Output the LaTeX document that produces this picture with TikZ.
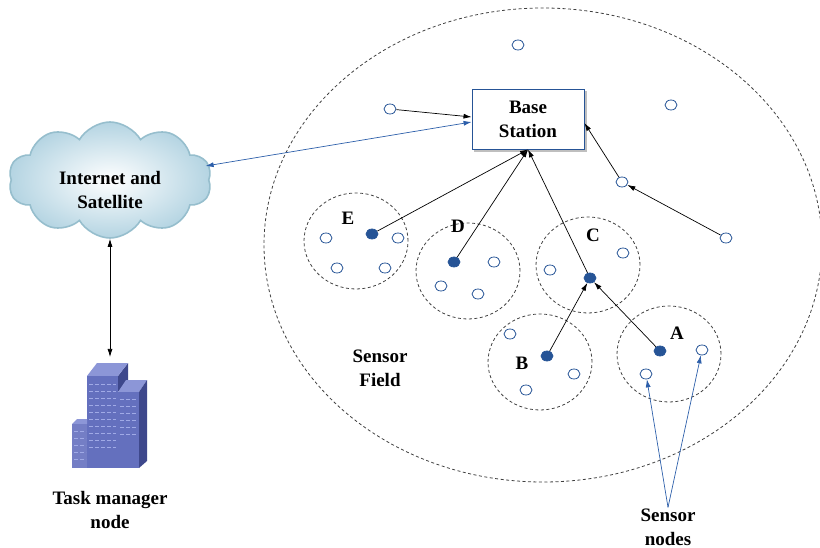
\documentclass[tikz,border=0pt]{standalone}
\usepackage{fontspec}
\setmainfont{Liberation Serif}
\usepackage{tikz}
\usetikzlibrary{arrows,arrows.meta,shapes,positioning,shadows}
\definecolor{wsnblue}{RGB}{38,84,150}
\definecolor{linkblue}{RGB}{45,95,170}
\definecolor{cloudedge}{RGB}{150,190,205}
\definecolor{cloudfill}{RGB}{180,212,226}
\definecolor{bfront}{RGB}{100,112,190}
\definecolor{bside}{RGB}{62,72,140}
\definecolor{btop}{RGB}{140,150,215}
\definecolor{bwin}{RGB}{160,170,230}
\tikzstyle{txt} = [font=\bfseries\fontsize{19}{24}\selectfont, align=center, inner sep=1pt]
\tikzstyle{sensor} = [ellipse, draw=wsnblue, fill=white, line width=0.8pt, minimum width=12pt, minimum height=10pt, inner sep=0pt]
\tikzstyle{head} = [sensor, fill=wsnblue]
\tikzstyle{cluster} = [ellipse, draw=black!75, dash pattern=on 3pt off 2.5pt, line width=0.8pt, minimum width=104pt, minimum height=96pt]
\tikzstyle{link} = [->,>={Latex[length=8pt,width=5pt]},line width=0.7pt]
\tikzstyle{bluelink} = [link, color=linkblue]

\begin{document}
\begin{tikzpicture}[x=1pt,y=-1pt]
\useasboundingbox (0,0) rectangle (820,548);

% Sensor field
\draw[black!75, dash pattern=on 3pt off 2.5pt, line width=0.8pt] (543,245) ellipse [x radius=279, y radius=237];
\node[txt] (field) at (380,368) {Sensor\\Field};

% Clusters
\node[cluster] (cE) at (356,241) {};
\node[cluster] (cD) at (468,271) {};
\node[cluster] (cC) at (588,265) {};
\node[cluster] (cB) at (540,362) {};
\node[cluster] (cA) at (669,354) {};
\node[txt] (lE) at (348,218) {E};
\node[txt] (lD) at (458,226) {D};
\node[txt] (lC) at (593,235) {C};
\node[txt] (lB) at (522,363) {B};
\node[txt] (lA) at (677,333) {A};

% Base station
\node[txt, draw=wsnblue, fill=white, line width=0.9pt, minimum width=112pt, minimum height=60pt,
  copy shadow={shadow xshift=2.5pt, shadow yshift=-2.5pt, fill=black!25, draw=black!25}] (bs) at (528,119) {Base\\Station};

% Cluster heads
\node[head] (hE) at (372,234) {};
\node[head] (hD) at (454,262) {};
\node[head] (hC) at (590,278) {};
\node[head] (hB) at (547,356) {};
\node[head] (hA) at (660,351) {};

% Sensors
\node[sensor] (s1) at (518,45) {};
\node[sensor] (s2) at (390,109) {};
\node[sensor] (s3) at (671,105) {};
\node[sensor] (s4) at (622,182) {};
\node[sensor] (s5) at (726,238) {};
\foreach \n/\x/\y in {e1/326/238, e2/398/238, e3/337/268, e4/385/268,
                      d1/494/262, d2/441/286, d3/478/294,
                      c1/623/253, c2/550/270,
                      b1/510/334, b2/574/374, b3/526/390,
                      a1/646/374, a2/702/350}
  \node[sensor] (\n) at (\x,\y) {};

% Links to the base station
\draw[link] (s2) -- ([yshift=2pt]bs.west);
\draw[link] (hE) -- (bs.south);
\draw[link] (hD) -- (bs.south);
\draw[link] (hC) -- (bs.south);
\draw[link] (hB) -- (hC);
\draw[link] (hA) -- (hC);
\draw[link] (s5) -- (s4);
\draw[link] (s4) -- ([yshift=-4pt]bs.east);

% Internet and satellite
\node[cloud, cloud puffs=10, cloud puff arc=120, aspect=1.75, minimum width=203pt, minimum height=116pt,
  draw=cloudedge, line width=1.6pt, inner color=white, outer color=cloudfill] (net) at (110,180) {};
\node[txt] (nettxt) at (110,190) {Internet and\\Satellite};
\draw[bluelink, <->] ([yshift=14pt,xshift=-4pt]net.east) -- ([yshift=-3pt]bs.west);

% Task manager building
\fill[bside] (118,376) -- (128,363) -- (128,380) -- (118,392) -- cycle;
\fill[btop] (87,376) -- (97,363) -- (128,363) -- (118,376) -- cycle;
\fill[bfront] (87,376) rectangle (118,468);
\fill[btop] (118,392) -- (126,380) -- (147,380) -- (139,392) -- cycle;
\fill[bfront] (118,392) rectangle (139,468);
\fill[bside] (139,392) -- (147,380) -- (147,461) -- (139,468) -- cycle;
\fill[btop] (72,424) -- (77,419) -- (87,419) -- (87,424) -- cycle;
\fill[bfront!90] (72,424) rectangle (87,468);
\foreach \y in {384,391,...,447}
  \draw[bwin, line width=1pt, dash pattern=on 4pt off 2pt] (89,\y) -- (116,\y);
\foreach \y in {399,406,...,434}
  \draw[bwin, line width=1pt, dash pattern=on 4pt off 2pt] (120,\y) -- (137,\y);
\foreach \y in {431,438,...,459}
  \draw[bwin, line width=1pt, dash pattern=on 4pt off 2pt] (74,\y) -- (86,\y);
\coordinate (bld) at (110,357);
\draw[link, <->] (net.south) -- (bld);
\node[txt] (tm) at (110,510) {Task manager\\node};

% Sensor nodes callout
\node[txt] (sn) at (668,527) {Sensor\\nodes};
\draw[bluelink] (sn.north) -- (a1);
\draw[bluelink] (sn.north) -- (a2);
\end{tikzpicture}
\end{document}
